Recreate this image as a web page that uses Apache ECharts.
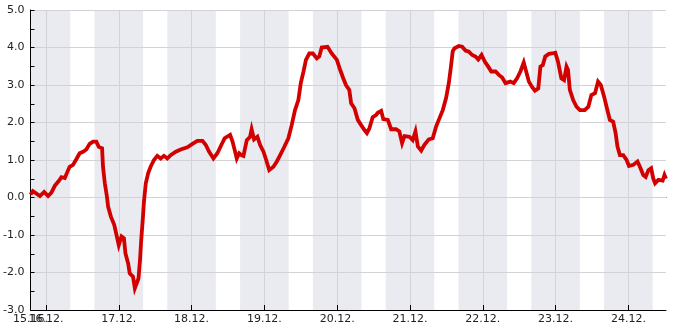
<!DOCTYPE html>
<html><head><meta charset="utf-8">
<script src="https://cdn.jsdelivr.net/npm/echarts@6/dist/echarts.min.js"></script>
<style>html,body{margin:0;padding:0;background:#fff}#c{width:685px;height:330px}</style>
</head><body><div id="c"></div>
<script>
// time in hours since 15.12. 00:00
var xMin = 18.9, xMax = 228.4;
var tickHours = [24, 48, 72, 96, 120, 144, 168, 192, 216];
var tickLabels = ['16.12.', '17.12.', '18.12.', '19.12.', '20.12.', '21.12.', '22.12.', '23.12.', '24.12.'];
var startLabel = '15.16.';
var nightStart = [18.9, 40, 64, 88, 112, 136, 160, 184, 208];
var nightEnd   = [32, 56, 80, 104, 128, 152, 176, 200, 224];

var times = [18.9,19.7,20.3,22.0,23.4,24.7,25.8,26.9,28.2,29.1,30.2,31.1,31.8,32.9,34.0,35.1,36.2,37.3,38.4,39.5,40.6,41.4,42.5,42.8,43.4,44.1,44.5,45.4,46.5,47.5,48.0,48.9,49.7,50.2,51.1,51.6,52.7,53.3,53.4,54.5,55.0,55.4,55.9,56.3,56.9,57.7,58.5,59.6,60.7,61.8,62.9,64.0,65.1,66.8,68.4,70.6,72.3,73.9,75.6,76.7,77.8,79.2,80.5,81.8,82.9,84.7,85.5,86.2,86.9,87.7,88.4,89.1,90.2,91.3,91.8,92.6,93.7,94.6,95.7,96.6,97.6,99.0,100.1,101.2,102.5,103.9,105.0,106.1,107.2,108.0,108.9,109.7,110.8,112.0,113.3,114.1,114.9,116.8,118.2,119.9,121.0,122.0,122.9,124.0,124.6,125.7,126.8,127.9,129.0,129.8,130.6,131.7,132.8,133.4,134.5,135.2,136.7,137.8,139.4,140.5,141.4,142.2,143.8,144.9,145.8,146.6,147.7,148.7,150.2,151.5,152.6,153.7,154.8,155.9,156.8,157.5,158.1,158.7,160.1,161.2,162.3,163.4,164.5,165.6,166.5,167.6,168.7,169.8,170.8,172.2,173.3,174.4,175.5,177.1,178.2,179.3,180.4,181.5,182.3,183.2,184.3,185.2,186.3,187.0,187.8,188.6,189.8,190.8,191.9,192.8,193.9,194.8,195.6,196.1,196.7,197.8,198.9,200.0,201.6,202.8,203.8,205.0,206.0,206.9,208.0,208.8,209.9,211.0,211.8,212.4,213.2,214.3,215.4,216.2,217.6,219.0,219.8,220.9,221.7,222.6,223.5,224.2,224.8,225.9,227.3,227.9,228.4];
var values = [0.08,0.17,0.13,0.04,0.15,0.04,0.13,0.31,0.44,0.54,0.52,0.69,0.82,0.87,1.02,1.18,1.22,1.28,1.43,1.49,1.49,1.35,1.31,0.82,0.38,0.02,-0.25,-0.51,-0.73,-1.09,-1.27,-1.04,-1.09,-1.49,-1.76,-2.02,-2.11,-2.42,-2.47,-2.16,-1.67,-1.13,-0.6,-0.11,0.38,0.65,0.82,1.0,1.11,1.04,1.11,1.04,1.13,1.22,1.28,1.34,1.43,1.51,1.51,1.4,1.22,1.04,1.18,1.4,1.58,1.67,1.49,1.27,1.04,1.18,1.13,1.11,1.53,1.62,1.82,1.55,1.62,1.4,1.22,1.0,0.73,0.82,0.96,1.13,1.34,1.58,1.93,2.33,2.6,3.05,3.36,3.67,3.84,3.84,3.71,3.76,4.0,4.02,3.84,3.67,3.4,3.18,3.0,2.87,2.51,2.38,2.07,1.93,1.8,1.72,1.84,2.14,2.2,2.26,2.31,2.09,2.07,1.82,1.82,1.76,1.45,1.64,1.62,1.53,1.76,1.36,1.25,1.4,1.55,1.58,1.89,2.11,2.33,2.65,3.05,3.49,3.9,3.98,4.04,4.02,3.92,3.89,3.8,3.76,3.68,3.8,3.62,3.49,3.36,3.36,3.27,3.2,3.05,3.09,3.05,3.18,3.36,3.6,3.36,3.09,2.94,2.85,2.91,3.49,3.53,3.76,3.83,3.84,3.86,3.62,3.18,3.13,3.49,3.4,2.87,2.6,2.42,2.33,2.33,2.42,2.73,2.78,3.09,3.0,2.69,2.42,2.07,2.02,1.71,1.36,1.13,1.13,1.0,0.84,0.87,0.96,0.82,0.6,0.55,0.73,0.78,0.51,0.38,0.47,0.45,0.6,0.5];

var lineData = times.map(function (t, i) { return [t, values[i]]; });
var bands = nightStart.map(function (s, i) { return [{ xAxis: s }, { xAxis: nightEnd[i] }]; });

var chart = echarts.init(document.getElementById('c'), null, { renderer: 'canvas' });
var font = 'DejaVu Sans';
var labelStyle = { margin: 4, color: '#222', fontFamily: font, fontSize: 11 };
chart.setOption({
  animation: false,
  backgroundColor: '#ffffff',
  grid: { left: 30.5, right: 19, top: 10, bottom: 20, containLabel: false },
  xAxis: [{
    type: 'value', min: xMin, max: xMax, z: 3, position: 'bottom',
    axisLine: { onZero: false, lineStyle: { color: '#000', width: 1 } },
    axisTick: { inside: true, length: 5, customValues: tickHours, lineStyle: { color: '#000' } },
    axisLabel: Object.assign({
      customValues: tickHours, showMinLabel: true, showMaxLabel: true, hideOverlap: false,
      formatter: function (v) {
        for (var i = 0; i < tickHours.length; i++) { if (Math.abs(tickHours[i] - v) < 0.01) return tickLabels[i]; }
        return '';
      }
    }, labelStyle),
    splitLine: { show: true, lineStyle: { color: '#d2d2d7', width: 1 } }
  }, {
    // start-of-range label, placed at the bottom edge of the grid
    type: 'value', min: xMin, max: xMax, z: 3, position: 'top', offset: -300,
    axisLine: { show: false, onZero: false }, axisTick: { show: false }, splitLine: { show: false },
    axisLabel: Object.assign({
      inside: true, customValues: [xMin], showMinLabel: true,
      formatter: function () { return startLabel; }
    }, labelStyle)
  }, {
    // zero line
    type: 'value', min: xMin, max: xMax, z: 1,
    axisLine: { onZero: true, lineStyle: { color: '#000', width: 1 } },
    axisTick: { show: false }, axisLabel: { show: false }, splitLine: { show: false }
  }],
  yAxis: {
    type: 'value', min: -3, max: 5, interval: 1, z: 3,
    axisLine: { show: true, onZero: false, lineStyle: { color: '#000', width: 1 } },
    axisTick: { show: true, inside: true, length: 4, lineStyle: { color: '#000' } },
    minorTick: { show: true, splitNumber: 2, length: 4, lineStyle: { color: '#000' } },
    axisLabel: { margin: 6, color: '#222', fontFamily: font, fontSize: 11,
      formatter: function (v) { return v.toFixed(1); } },
    splitLine: { show: true, lineStyle: { color: '#d2d2d7', width: 1 } }
  },
  series: [{
    type: 'line', data: [], z: 2, silent: true,
    markArea: { silent: true, z: 2, itemStyle: { color: 'rgba(224,226,235,0.7)' }, data: bands }
  }, {
    type: 'line', data: lineData, z: 5, showSymbol: false, symbol: 'none',
    lineStyle: { color: '#d30000', width: 3.8, join: 'miter' }
  }]
});
</script></body></html>
